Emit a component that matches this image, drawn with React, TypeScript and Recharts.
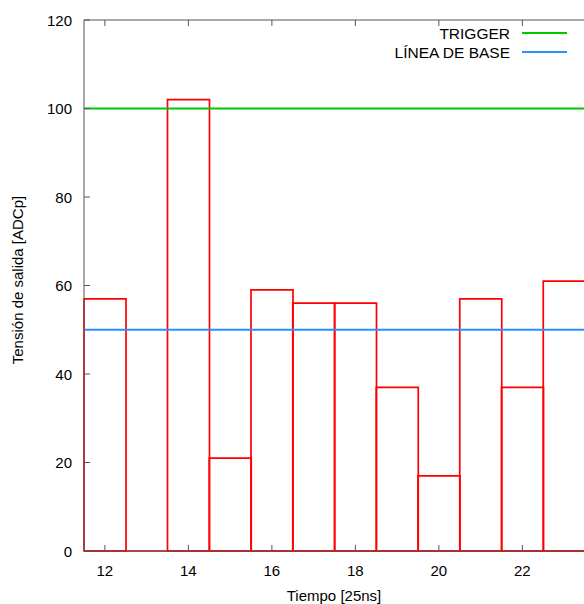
import React from "react";
import {
  ComposedChart,
  Bar,
  XAxis,
  YAxis,
  ReferenceLine,
} from "recharts";

const samples = [12, 13, 14, 15, 16, 17, 18, 19, 20, 21, 22, 23];
const outputAdc = [57, 0, 102, 21, 59, 56, 56, 37, 17, 57, 37, 61];
const yTicks = [0, 20, 40, 60, 80, 100, 120];
const triggerLevel = 100;
const baseline = 50;

const data = samples.map((t, i) => ({ t, v: outputAdc[i] }));

const FONT = "'Liberation Sans', Arial, sans-serif";
const AXIS = "#555";
const TICK = 6;
const GREEN = "#00c800";
const BLUE = "#2a8fff";

// gnuplot-style ticks: drawn inward, labels outside
const BottomTick = ({ x, y, payload }: any) => (
  <g>
    <line x1={x} x2={x} y1={y} y2={y - TICK} stroke={AXIS} />
    <text x={x} y={y + 19} textAnchor="middle" dominantBaseline="central" fontSize={15} fontFamily={FONT} fill="#000">
      {payload.value}
    </text>
  </g>
);

const TopTick = ({ x, y }: any) => <line x1={x} x2={x} y1={y} y2={y + TICK} stroke={AXIS} />;

const LeftTick = ({ x, y, payload }: any) => (
  <g>
    <line x1={x} x2={x + TICK} y1={y} y2={y} stroke={AXIS} />
    <text x={x - 12} y={y} textAnchor="end" dominantBaseline="central" fontSize={15} fontFamily={FONT} fill="#000">
      {payload.value}
    </text>
  </g>
);

const RightTick = ({ x, y }: any) => <line x1={x} x2={x - TICK} y1={y} y2={y} stroke={AXIS} />;

export default function App() {
  return (
    <div style={{ position: "absolute", left: 0, top: 0, width: 584, height: 604, background: "#fff", overflow: "hidden" }}>
      {/* plot runs slightly past the right edge, like the original */}
      <ComposedChart
        width={586}
        height={604}
        data={data}
        barCategoryGap={0}
        margin={{ top: 19, right: 0, bottom: 23, left: 0 }}
      >
        <XAxis
          dataKey="t"
          interval={1}
          tickSize={0}
          tickMargin={0}
          tickLine={false}
          axisLine={{ stroke: AXIS }}
          tick={<BottomTick />}
          height={30}
        />
        <XAxis
          xAxisId="top"
          orientation="top"
          dataKey="t"
          interval={1}
          tickSize={0}
          tickMargin={0}
          tickLine={false}
          axisLine={{ stroke: AXIS }}
          tick={<TopTick />}
          height={1}
        />
        <YAxis
          type="number"
          domain={[0, 120]}
          ticks={yTicks}
          width={84}
          tickSize={0}
          tickMargin={0}
          tickLine={false}
          axisLine={{ stroke: AXIS }}
          tick={<LeftTick />}
        />
        <YAxis
          yAxisId="r"
          orientation="right"
          type="number"
          domain={[0, 120]}
          ticks={yTicks}
          width={1}
          tickSize={0}
          tickMargin={0}
          tickLine={false}
          axisLine={false}
          tick={<RightTick />}
        />
        <Bar dataKey="v" fill="none" stroke="#ff0000" strokeWidth={1.7} isAnimationActive={false} />
        <ReferenceLine y={0} stroke="#ff0000" strokeWidth={1.7} />
        <ReferenceLine y={triggerLevel} stroke={GREEN} strokeWidth={2} />
        <ReferenceLine y={baseline} stroke={BLUE} strokeWidth={2} />
      </ComposedChart>

      <svg width={584} height={604} style={{ position: "absolute", left: 0, top: 0, pointerEvents: "none" }}>
        <text x={334} y={595} textAnchor="middle" dominantBaseline="central" fontSize={15} fontFamily={FONT}>
          Tiempo [25ns]
        </text>
        <text
          x={17}
          y={280}
          transform="rotate(-90 17 280)"
          textAnchor="middle"
          dominantBaseline="central"
          fontSize={15}
          fontFamily={FONT}
        >
          Tensión de salida [ADCp]
        </text>
        <text x={510} y={33} textAnchor="end" dominantBaseline="central" fontSize={15.5} fontFamily={FONT}>
          TRIGGER
        </text>
        <line x1={522} x2={567} y1={33} y2={33} stroke={GREEN} strokeWidth={2} />
        <text x={510} y={52} textAnchor="end" dominantBaseline="central" fontSize={15.5} fontFamily={FONT}>
          LÍNEA DE BASE
        </text>
        <line x1={522} x2={567} y1={52} y2={52} stroke={BLUE} strokeWidth={2} />
      </svg>
    </div>
  );
}
